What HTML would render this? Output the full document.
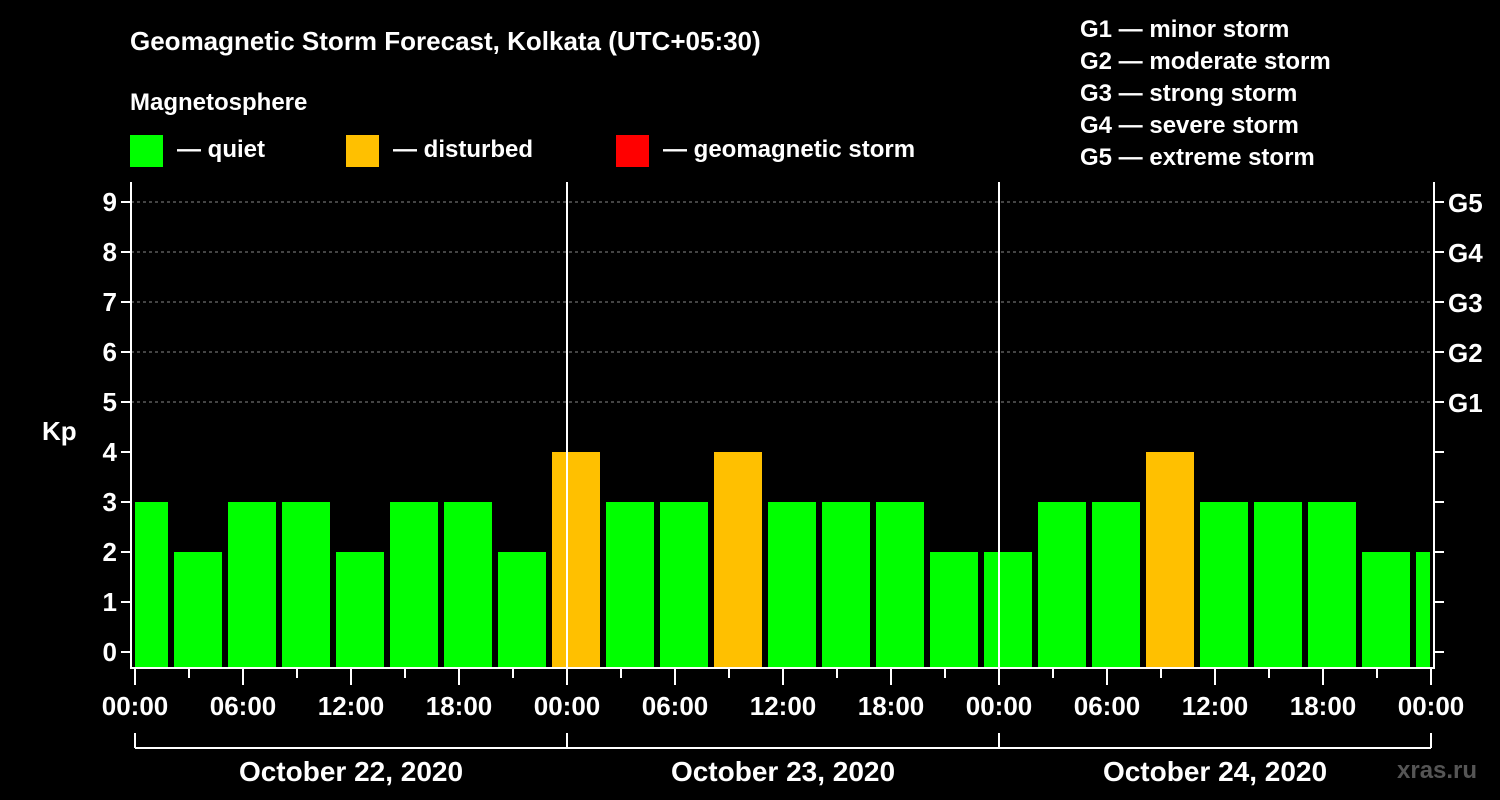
<!DOCTYPE html>
<html><head><meta charset="utf-8"><style>
html,body{margin:0;padding:0;background:#000;}
svg{display:block;font-family:"Liberation Sans",Arial,sans-serif;font-weight:bold;}
</style></head><body>
<svg id="chart" width="1500" height="800" viewBox="0 0 1500 800">
<text x="130" y="50" fill="#fff" font-size="26">Geomagnetic Storm Forecast, Kolkata (UTC+05:30)</text>
<text x="130" y="110" fill="#fff" font-size="24">Magnetosphere</text>
<g><rect x="130" y="135" width="33" height="32" fill="#00ff00"/><text x="177" y="157" fill="#fff" font-size="24">— quiet</text></g>
<g><rect x="346" y="135" width="33" height="32" fill="#ffc000"/><text x="393" y="157" fill="#fff" font-size="24">— disturbed</text></g>
<g><rect x="616" y="135" width="33" height="32" fill="#ff0000"/><text x="663" y="157" fill="#fff" font-size="24">— geomagnetic storm</text></g>
<g fill="#fff" font-size="24">
<text x="1080" y="37">G1 — minor storm</text>
<text x="1080" y="69">G2 — moderate storm</text>
<text x="1080" y="101">G3 — strong storm</text>
<text x="1080" y="133">G4 — severe storm</text>
<text x="1080" y="165">G5 — extreme storm</text>
</g>
<text x="42" y="440" fill="#fff" font-size="26">Kp</text>
<text x="1397" y="778" fill="#555" font-size="24">xras.ru</text>
<g id="grid"></g><g id="bars"></g><g id="axes"></g>
</svg>
<script>
const kpValues=[3,2,3,3,2,3,3,2,4,3,3,4,3,3,3,2,2,3,3,4,3,3,3,2,2];
const dayLabels=["October 22, 2020","October 23, 2020","October 24, 2020"];
const hourLabels=["00:00","06:00","12:00","18:00"];
const gLabels=["G1","G2","G3","G4","G5"];
const NS="http://www.w3.org/2000/svg";
const X0=135,PX_H=18,L=131,R=1434,T=182,B=668;
const x=h=>X0+h*PX_H; const y=v=>652-v*50;
function mk(t,a,p){const e=document.createElementNS(NS,t);for(const k in a)e.setAttribute(k,a[k]);p.appendChild(e);return e;}
const grid=document.getElementById('grid'),bars=document.getElementById('bars'),axes=document.getElementById('axes');
const clip=mk('clipPath',{id:'pc'},bars);mk('rect',{x:L+4,y:T,width:R-L-8,height:B-T},clip);
bars.setAttribute('clip-path','url(#pc)');
for(let v=5;v<=9;v++){const l=mk('line',{x1:L,x2:R,y1:y(v),y2:y(v),stroke:'#888','stroke-dasharray':'3,3'},grid);

}
kpValues.forEach((v,i)=>{const c=x(3*i+0.5);
const r=mk('rect',{x:c-24,y:y(v),width:48,height:B-y(v),fill:v>=5?'#ff0000':v>=4?'#ffc000':'#00ff00'},bars);

});
mk('polyline',{points:`${L},${T} ${L},${B} ${R},${B} ${R},${T}`,fill:'none',stroke:'#fff','stroke-width':2},axes);
for(let d=1;d<3;d++){const l=mk('line',{x1:x(24*d),x2:x(24*d),y1:T,y2:B,stroke:'#fff','stroke-width':2},axes);

}
for(let v=0;v<=9;v++){mk('line',{x1:L-10,x2:L,y1:y(v),y2:y(v),stroke:'#fff','stroke-width':2},axes);
mk('line',{x1:R,x2:R+10,y1:y(v),y2:y(v),stroke:'#fff','stroke-width':2},axes);
const t=mk('text',{x:L-14,y:y(v)+9,fill:'#fff','font-size':26,'text-anchor':'end'},axes);t.textContent=v;

}
gLabels.forEach((g,i)=>{const t=mk('text',{x:1448,y:y(5+i)+10,fill:'#fff','font-size':26},axes);t.textContent=g;

});
for(let h=0;h<=72;h+=3){const major=h%6===0;mk('line',{x1:x(h),x2:x(h),y1:B,y2:B+(major?17:10),stroke:'#fff','stroke-width':2},axes);
if(major&&h%6===0&&(h%24)%6===0){const t=mk('text',{x:x(h),y:715,fill:'#fff','font-size':26,'text-anchor':'middle'},axes);t.textContent=hourLabels[(h%24)/6];

}}
mk('line',{x1:x(0),x2:x(72),y1:748,y2:748,stroke:'#fff','stroke-width':2},axes);
for(let d=0;d<=3;d++)mk('line',{x1:x(24*d),x2:x(24*d),y1:733,y2:748,stroke:'#fff','stroke-width':2},axes);
dayLabels.forEach((s,d)=>{const t=mk('text',{x:x(24*d+12),y:781,fill:'#fff','font-size':28,'text-anchor':'middle'},axes);t.textContent=s;

});
</script>
</body></html>
